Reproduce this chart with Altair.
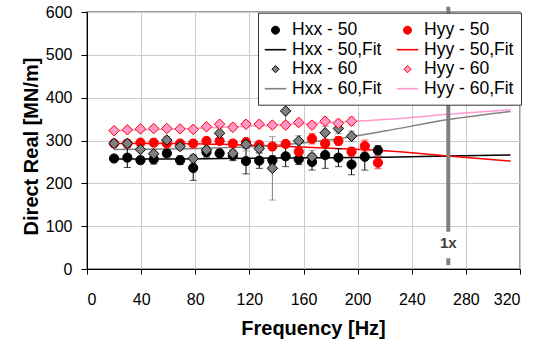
import altair as alt
import pandas as pd

# ---------------- data ----------------
freq = [20, 29.8, 39.5, 49.3, 59, 68.8, 78.5, 88.3, 98, 107.8, 117.5, 127.3,
        137, 146.8, 156.5, 166.3, 176, 185.8, 195.5, 205.3, 215]

hxx50 = [258, 260, 254, 256, 270, 254, 236, 273, 270, 265, 252, 253, 254, 263,
         256, 250, 266, 260, 244, 262, 277]
hxx50_err = [5, 23, 8, 11, 8, 10, 29, 12, 8, 12, 30, 18, 10, 24, 12, 19, 31,
             21, 24, 31, 11]
hyy50 = [293, 293, 295, 295, 293, 293, 293, 299, 299, 293, 296, 290, 286, 292,
         274, 304, 293, 299, 274, 287, 248]
hyy50_err = [4, 4, 4, 4, 4, 4, 5, 6, 6, 6, 8, 8, 8, 8, 10, 12, 8, 10, 10, 14, 14]
hxx60 = [293, 293, 279, 269, 301, 286, 258, 278, 317, 270, 291, 281, 235, 369,
         299, 262, 318, 328, 310]
hxx60_err = [5, 8, 5, 10, 8, 8, 10, 15, 12, 8, 15, 10, 74, 25, 12, 15, 15, 12, 12]
hyy60 = [323, 325, 327, 328, 328, 327, 326, 332, 338, 331, 338, 338, 336, 336,
         342, 336, 345, 340, 345]
hyy60_err = [3, 3, 3, 3, 3, 3, 3, 5, 5, 8, 8, 5, 5, 8, 8, 8, 10, 10, 10]

fit_freq = [20, 60, 100, 140, 180, 220, 267, 313]
hxx50_fit = [257, 257, 258, 259, 260, 261, 264, 266]
hyy50_fit = [293, 293, 291, 287, 282, 276, 264, 252]
hxx60_fit = [279, 280, 283, 289, 302, 322, 349, 368]
hyy60_fit = [323, 326, 331, 336, 342, 349, 361, 372]

onex_freq = [267]
onex_top = [612]
onex_upper_end = [87]
onex_label_y = [60]
onex_lower = [9, 25]

x_ticks = [0, 40, 80, 120, 160, 200, 240, 280, 320]
y_ticks = [0, 100, 200, 300, 400, 500, 600]

# legend entries, column by column (2 columns x 4 rows)
legend_entries = ["Hxx - 50", "Hxx - 50,Fit", "Hxx - 60", "Hxx - 60,Fit",
                  "Hyy - 50", "Hyy - 50,Fit", "Hyy - 60", "Hyy - 60,Fit"]

BLACK, RED, GRAY, PINK = "#000000", "#FF0000", "#808080", "#FF99CC"
FONT = "Liberation Sans"

# ---------------- encodings ----------------
xscale = alt.Scale(domain=[0, 320], nice=False, zero=False)
yscale = alt.Scale(domain=[0, 600], nice=False, zero=False)
xaxis = alt.Axis(values=x_ticks, title="Frequency [Hz]", titleX=226, titleY=65,
                 titleBaseline="alphabetic", labelPadding=17, tickSize=5)
yaxis = alt.Axis(values=y_ticks, title="Direct Real [MN/m]", titleX=-50, titleY=134,
                 titleBaseline="alphabetic", titleAlign="center", labelPadding=9,
                 tickSize=6)


def X(field):
    return alt.X(f"{field}:Q", scale=xscale, axis=xaxis)


def Y(field):
    return alt.Y(f"{field}:Q", scale=yscale, axis=yaxis)


layers = []

# fit lines
for vals, col in [(hxx50_fit, BLACK), (hyy50_fit, RED), (hxx60_fit, GRAY), (hyy60_fit, PINK)]:
    df = pd.DataFrame({"f": fit_freq, "v": vals})
    layers.append(alt.Chart(df).mark_line(color=col, strokeWidth=1.5, interpolate="monotone")
                  .encode(x=X("f"), y=Y("v")))

# 1x marker
dfx = pd.DataFrame({"f": onex_freq, "a": onex_upper_end, "b": onex_top,
                    "c": [onex_lower[0]], "d": [onex_lower[1]], "t": onex_label_y,
                    "lab": ["1x"]})
layers.append(alt.Chart(dfx).mark_rule(color="#808080", strokeWidth=4)
              .encode(x=X("f"), y=Y("a"), y2="b:Q"))
layers.append(alt.Chart(dfx).mark_rule(color="#808080", strokeWidth=4)
              .encode(x=X("f"), y=Y("c"), y2="d:Q"))
layers.append(alt.Chart(dfx).mark_text(font=FONT, fontSize=15, fontWeight="bold",
                                        color="#404040", baseline="middle")
              .encode(x=X("f"), y=Y("t"), text="lab:N"))

series = [
    (freq, hxx50, hxx50_err, BLACK, BLACK, BLACK, "circle", 85),
    (freq, hyy50, hyy50_err, RED, RED, RED, "circle", 85),
    (freq[:19], hxx60, hxx60_err, GRAY, BLACK, GRAY, "diamond", 110),
    (freq[:19], hyy60, hyy60_err, PINK, RED, PINK, "diamond", 110),
]

# error bars
for fr, vals, errs, fill, stroke, ecol, shape, size in series:
    df = pd.DataFrame({"f": fr, "v": vals, "e": errs})
    df["lo"] = df["v"] - df["e"]
    df["hi"] = df["v"] + df["e"]
    layers.append(alt.Chart(df).mark_rule(color=ecol, strokeWidth=1)
                  .encode(x=X("f"), y=Y("lo"), y2="hi:Q"))
    for fld in ["lo", "hi"]:
        layers.append(alt.Chart(df).mark_tick(color=ecol, orient="horizontal", size=7,
                                              thickness=1)
                      .encode(x=X("f"), y=Y(fld)))

# points
for fr, vals, errs, fill, stroke, ecol, shape, size in series:
    df = pd.DataFrame({"f": fr, "v": vals})
    layers.append(alt.Chart(df).mark_point(filled=True, shape=shape, size=size, fill=fill,
                                           stroke=stroke, strokeWidth=1, opacity=1)
                  .encode(x=X("f"), y=Y("v")))

# legend (dummy layer, no drawn marks)
circ = "M-0.4,0A0.4,0.4 0 1,0 0.4,0A0.4,0.4 0 1,0 -0.4,0Z"
diam = "M0,-0.36L0.36,0L0,0.36L-0.36,0Z"
line = "M-1.05,-0.03L1.05,-0.03L1.05,0.03L-1.05,0.03Z"
leg_fill = [BLACK, BLACK, GRAY, GRAY, RED, RED, PINK, PINK]
leg_stroke = [BLACK, BLACK, BLACK, GRAY, RED, RED, RED, PINK]
leg_shape = [circ, line, diam, line, circ, line, diam, line]
legend = alt.Legend(title=None, orient="none", legendX=171, legendY=0.7, columns=2,
                    symbolSize=400, symbolStrokeWidth=1, labelFont=FONT,
                    labelFontSize=17.5, labelColor="#000000", labelOffset=6,
                    columnPadding=13, rowPadding=0.5, padding=7, fillColor="#FFFFFF",
                    strokeColor="#333333", labelLimit=300)
dleg = pd.DataFrame({"s": legend_entries, "f": [None] * 8, "v": [None] * 8})
layers.append(alt.Chart(dleg).mark_point(filled=True, strokeWidth=1, opacity=1)
              .encode(x=X("f"), y=Y("v"),
                      fill=alt.Fill("s:N", scale=alt.Scale(domain=legend_entries, range=leg_fill), legend=legend),
                      stroke=alt.Stroke("s:N", scale=alt.Scale(domain=legend_entries, range=leg_stroke), legend=legend),
                      shape=alt.Shape("s:N", scale=alt.Scale(domain=legend_entries, range=leg_shape), legend=legend)))

chart = (alt.layer(*layers)
         .properties(width=433, height=257,
                     autosize=alt.AutoSizeParams(type="none"),
                     padding={"left": 87, "top": 12, "right": 28, "bottom": 76},
                     background="#FFFFFF")
         .configure_view(stroke="#808080", strokeWidth=1.5)
         .configure_axis(labelFont=FONT, labelFontSize=16, labelColor="#000000",
                         titleFont=FONT, titleFontSize=20, titleFontWeight="bold",
                         titleColor="#000000", domainColor="#000000", domainWidth=1,
                         tickColor="#000000", tickWidth=1, gridColor="#CCCCCC",
                         gridWidth=1, grid=True))

chart.save("out.html", embed_options={"renderer": "svg", "actions": False})
